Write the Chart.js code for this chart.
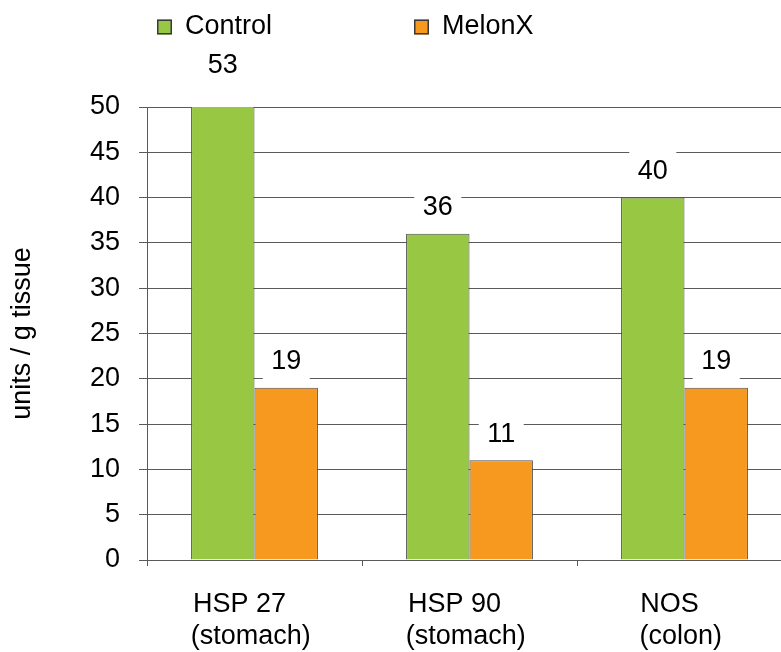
<!DOCTYPE html>
<html>
<head>
<meta charset="utf-8">
<title>units / g tissue</title>
<script src="https://cdn.jsdelivr.net/npm/chart.js@4.4.1/dist/chart.umd.min.js"></script>
<style>
  html, body { margin: 0; padding: 0; background: #ffffff; overflow: hidden; width: 781px; height: 652px; }
  canvas { display: block; }
</style>
</head>
<body>
<canvas id="chart" width="800" height="652"></canvas>
<script>
// Categories (two-line labels), series and axis ticks
const categories = [["HSP 27", "(stomach)"], ["HSP 90", "(stomach)"], ["NOS", "(colon)"]];
const seriesNames = ["Control", "MelonX"];
const controlValues = [53, 36, 40];
const melonxValues = [19, 11, 19];
const yAxisTicks = { min: 0, max: 50, step: 5 };
const yAxisTitle = "units / g tissue";

const FONT = '"Liberation Sans", Arial, Helvetica, sans-serif';
const FONT_SIZE = 27;
const CSS_FONT = FONT_SIZE + 'px ' + FONT;
Chart.defaults.font.family = FONT;
Chart.defaults.font.size = FONT_SIZE;
Chart.defaults.color = '#000000';

// Pads the lines of a category label with trailing spaces so the lines
// share roughly one left edge when the block is centred under its tick.
const measureCtx = document.createElement('canvas').getContext('2d');
measureCtx.font = CSS_FONT;
function leftAlignedLines(lines) {
  const space = measureCtx.measureText(' ').width;
  const widths = lines.map(s => measureCtx.measureText(s).width);
  const widest = Math.max(...widths);
  return lines.map((s, i) => s + ' '.repeat(Math.floor((widest - widths[i]) / space) + 1));
}

// Legend drawn as a single spaced row above the plot
const rowLegend = {
  id: 'rowLegend',
  afterDraw(chart, args, opts) {
    const ctx = chart.ctx;
    ctx.save();
    ctx.font = CSS_FONT;
    ctx.textBaseline = 'middle';
    ctx.textAlign = 'left';
    chart.data.datasets.forEach((ds, i) => {
      const x = opts.x[i];
      const y = opts.y;
      const s = opts.box;
      ctx.fillStyle = ds.backgroundColor;
      ctx.fillRect(x, y - s / 2, s, s);
      ctx.strokeStyle = opts.boxBorder;
      ctx.lineWidth = 1.5;
      ctx.strokeRect(x + 0.75, y - s / 2 + 0.75, s - 1.5, s - 1.5);
      ctx.fillStyle = '#000000';
      ctx.fillText(ds.label, x + s + opts.gap, y);
    });
    ctx.restore();
  }
};

// Value labels on a white backing above each bar
const valueLabels = {
  id: 'valueLabels',
  afterDatasetsDraw(chart, args, opts) {
    const { ctx, chartArea } = chart;
    ctx.save();
    ctx.font = CSS_FONT;
    ctx.textAlign = 'center';
    ctx.textBaseline = 'middle';
    chart.data.datasets.forEach((ds, di) => {
      chart.getDatasetMeta(di).data.forEach((bar, i) => {
        const text = String(ds.data[i]);
        const y = Math.max(bar.y - opts.offset, chartArea.top - opts.aboveTop);
        const w = ctx.measureText(text).width + opts.padX * 2;
        ctx.fillStyle = '#ffffff';
        ctx.fillRect(bar.x - w / 2, y - opts.halfHeight, w, opts.halfHeight * 2);
        ctx.fillStyle = '#000000';
        ctx.fillText(text, bar.x, y + 1);
      });
    });
    ctx.restore();
  }
};

const GRID = '#5a5a5a';

new Chart(document.getElementById('chart'), {
  type: 'bar',
  data: {
    labels: categories,
    datasets: [
      {
        label: seriesNames[0],
        data: controlValues,
        backgroundColor: '#98C843',
        borderColor: '#4f4f4f',
        borderWidth: 1
      },
      {
        label: seriesNames[1],
        data: melonxValues,
        backgroundColor: '#F7981F',
        borderColor: '#4f4f4f',
        borderWidth: 1
      }
    ]
  },
  options: {
    responsive: false,
    animation: false,
    layout: { padding: { top: 107, right: 8, bottom: 0, left: 0 } },
    datasets: {
      bar: { barPercentage: 1.0, categoryPercentage: 0.59 }
    },
    plugins: {
      legend: { display: false },
      tooltip: { enabled: false },
      rowLegend: { x: [157, 414], y: 27, box: 15, gap: 13, boxBorder: '#3a3a3a' },
      valueLabels: { offset: 27, aboveTop: 42, padX: 8.5, halfHeight: 20 }
    },
    scales: {
      x: {
        grid: {
          offset: true,
          drawOnChartArea: false,
          drawTicks: true,
          tickLength: 6,
          color: GRID,
          lineWidth: 1
        },
        border: { display: true, color: GRID, width: 1 },
        ticks: {
          padding: 22,
          maxRotation: 0,
          autoSkip: false,
          callback(value, index) {
            return leftAlignedLines(categories[index]);
          }
        },
        afterFit(scale) { scale.height = 92; }
      },
      y: {
        min: yAxisTicks.min,
        max: yAxisTicks.max,
        ticks: { stepSize: yAxisTicks.step, padding: 19 },
        grid: {
          color: GRID,
          lineWidth: 1,
          drawTicks: true,
          tickLength: 8
        },
        border: { display: true, color: GRID, width: 1 },
        title: {
          display: true,
          text: yAxisTitle,
          font: { size: FONT_SIZE },
          padding: { top: 6, bottom: 0 }
        },
        afterFit(scale) { scale.width = 147; }
      }
    }
  },
  plugins: [rowLegend, valueLabels]
});
</script>
</body>
</html>
